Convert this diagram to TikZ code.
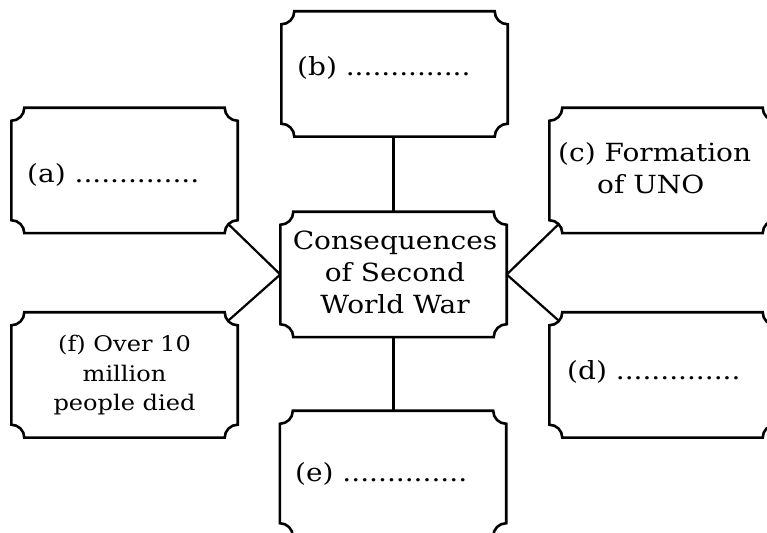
\documentclass[tikz,border=0pt]{standalone}
\usepackage{fontspec}
\setmainfont{DejaVu Serif}[FakeStretch=1.12]
\usetikzlibrary{calc}
% centred stack of lines whose baseline is that of the first line
\newcommand\stacklines[1]{\begin{tabular}[t]{@{}c@{}}#1\end{tabular}}
\newcommand\leftlines[1]{\begin{tabular}[t]{@{}l@{}}#1\end{tabular}}
\begin{document}
\begin{tikzpicture}[x=1pt,y=1pt,
  box/.style={rectangle, inner sep=0pt, minimum width=226pt, minimum height=125pt},
  outline/.style={line width=2.6pt, line join=miter},
  link/.style={line width=2.2pt},
  txt/.style={inner sep=0pt, font=\fontsize{25}{32}\selectfont},
  smalltxt/.style={inner sep=0pt, font=\fontsize{21.5}{29.5}\selectfont},
]
\useasboundingbox (0,0) rectangle (767,532);
\clip (0,0) rectangle (767,532);
\def\R{13pt}

% frames of the ticket-shaped boxes
\node[box] (a)   at (124.5,361.5) {};
\node[box] (b)   at (394.5,458)   {};
\node[box] (ctr) at (393.5,257.5) {};
\node[box] (c)   at (662.5,361.5) {};
\node[box] (d)   at (662.5,157)   {};
\node[box] (e)   at (393,58.5)    {};
\node[box] (f)   at (124.5,157)   {};

% outlines with concave (notched) corners
\foreach \n in {a,b,ctr,c,d,e,f}
  \draw[outline] ([xshift=\R]\n.north west) -- ([xshift=-\R]\n.north east)
    arc[start angle=180, end angle=270, radius=\R]
    -- ([yshift=\R]\n.south east)
    arc[start angle=90, end angle=180, radius=\R]
    -- ([xshift=\R]\n.south west)
    arc[start angle=0, end angle=90, radius=\R]
    -- ([yshift=-\R]\n.north west)
    arc[start angle=270, end angle=360, radius=\R]
    -- cycle;

% connectors from the central box; the diagonals run on into the notches
\draw[link] (ctr.north) -- (ctr.north |- b.south);
\draw[link] (ctr.south) -- (ctr.south |- e.north);
\draw[link, shorten >=-12pt] (ctr.west) -- (a.south east);
\draw[link, shorten >=-12pt] (ctr.west) -- (f.north east);
\draw[link, shorten >=-12pt] (ctr.east) -- (c.south west);
\draw[link, shorten >=-12pt] (ctr.east) -- (d.north west);

% texts
\node[txt, anchor=base west] (ta) at (27,349) {(a)~..............};
\node[txt, anchor=base west] (tb) at (297,456) {(b)~..............};
\node[txt, anchor=base west] (td) at (567,152) {(d)~..............};
\node[txt, anchor=base west] (te) at (295,50) {(e)~..............};
\node[txt, anchor=base west] (tc) at (558,370) {\leftlines{(c) Formation\\\hspace*{39pt}of UNO}};
\node[txt, anchor=base] (tctr) at (395,282) {\stacklines{Consequences\\of Second\\World War}};
\node[smalltxt, anchor=base] (tf) at (124.5,180) {\stacklines{(f) Over 10\\million\\people died}};
\end{tikzpicture}
\end{document}
